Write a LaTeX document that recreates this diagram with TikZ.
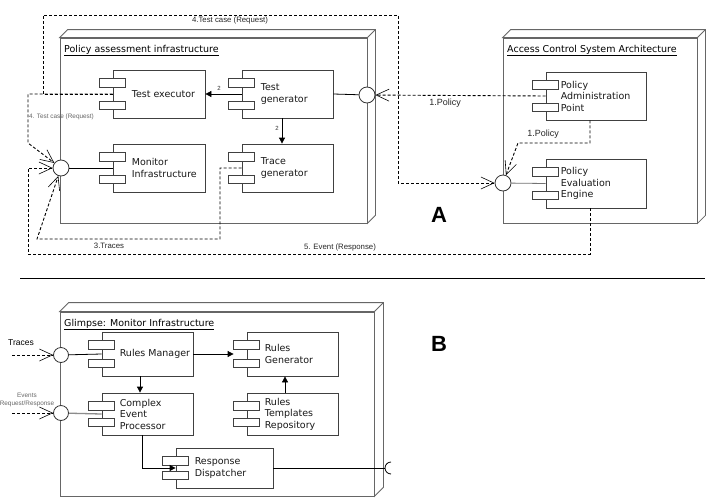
\documentclass[tikz,border=0pt]{standalone}
\usepackage{fontspec}
\setmainfont{DejaVu Sans}
\newfontfamily\labfont{Liberation Sans}
\usetikzlibrary{arrows.meta}

\tikzset{
  depbox/.style={draw=black!60, fill=white, line width=0.8pt, inner sep=0pt},
  depline/.style={draw=black!60, line width=0.8pt},
  compbox/.style={draw=black!75, fill=white, line width=0.8pt, inner sep=0pt},
  tabbox/.style={draw=black!75, fill=white, line width=0.8pt},
  comptext/.style={font=\fontsize{9.5}{11.5}\selectfont, align=left, inner sep=0pt, text=black!90},
  deptitle/.style={font=\fontsize{9.5}{11.5}\selectfont, anchor=base west, inner sep=0pt},
  iface/.style={circle, draw=black!80, fill=white, line width=0.8pt, minimum size=16pt, inner sep=0pt},
  solidline/.style={draw=black, line width=0.8pt},
  dashline/.style={draw=black, line width=0.9pt, dash pattern=on 3pt off 2pt},
  openarrow/.style={-{Straight Barb[length=13pt,width=12pt,line width=0.6pt]}},
  fillarrow/.style={-{Triangle[length=6pt,width=6pt]}},
  labA/.style={font=\labfont\fontsize{7.8}{9}\selectfont, inner sep=0pt, text=black!85},
  labP/.style={font=\labfont\fontsize{9}{10}\selectfont, inner sep=0pt, text=black!85},
  labS/.style={font=\labfont\fontsize{6.4}{7.5}\selectfont, inner sep=0pt, text=black!60, align=center},
  labtwo/.style={font=\labfont\fontsize{6}{7}\selectfont, inner sep=0pt, text=black!80},
  bigletter/.style={font=\labfont\bfseries\fontsize{22}{22}\selectfont, inner sep=0pt},
}

% component: [text offset]{name}{x1}{y1}{x2}{y2}{text}
\newcommand\comp[7][19]{%
  \node[compbox, minimum width={(#5-#3)*1pt}, minimum height={(#6-#4)*1pt}] (#2) at ({(#3+#5)/2},{(#4+#6)/2}) {};
  \draw[tabbox] ([shift={(-13pt,-9pt)}]#2.north west) rectangle ([shift={(13pt,-17.5pt)}]#2.north west);
  \draw[tabbox] ([shift={(-13pt,9pt)}]#2.south west) rectangle ([shift={(13pt,17.5pt)}]#2.south west);
  \node[comptext, anchor=west] (#2-t) at ([xshift=#1pt]#2.west) {#7};
}

% deployment node: [depth]{name}{x1}{y1}{x2}{y2}
\newcommand\deploy[6][8]{%
  \node[depbox, minimum width={(#5-#3)*1pt}, minimum height={(#6-#4)*1pt}] (#2) at ({(#3+#5)/2},{(#4+#6)/2}) {};
  \draw[depline, fill=white] (#2.north west) -- ++(#1pt,#1pt) -- ([shift={(#1pt,#1pt)}]#2.north east)
     -- ([shift={(#1pt,#1pt)}]#2.south east) -- (#2.south east) -- (#2.north east) -- cycle;
  \draw[depline] (#2.north east) -- ++(#1pt,#1pt);
}

\begin{document}
\begin{tikzpicture}[x=1pt, y=-1pt]
\useasboundingbox (0,0) rectangle (706,498);

% ---------------- Part A ----------------
\deploy{pai}{60}{38}{367}{223}
\node[deptitle] (pai-title) at (64,52) {\underline{Policy assessment infrastructure}};
\deploy{acs}{503}{38}{697}{223}
\node[deptitle] (acs-title) at (507,52) {\underline{Access Control System Architecture}};

\comp{te}{113}{70}{205}{118}{Test executor}
\comp{tg}{242}{70}{333}{118}{Test\\generator}
\comp{mi}{113}{144}{205}{192}{Monitor\\Infrastructure}
\comp{trg}{242}{144}{333}{192}{Trace\\generator}
\comp[15]{pap}{546}{72}{646}{120}{Policy\\Administration\\Point}
\comp[15]{pee}{546}{159}{646}{208}{Policy\\Evaluation\\Engine}

\node[iface] (cr) at (367,95) {};
\node[iface] (cl) at (61,168) {};
\node[iface] (cp) at (503,183) {};

% dashed message flows
\draw[dashline, openarrow] (pap.west) -- (cr);
\node[labP] (lpol1) at (445,103) {1.Policy};
\draw[dashline, openarrow] ([xshift=-6pt]pap.south) |- (518,143) -- (cp);
\node[labP] (lpol2) at (543,134) {1.Policy};

\draw[dashline, openarrow] (te.west) -- (43,94) -- (43,15) -- (398,15) -- (398,183) -- (cp);
\node[labA] (ltc1) at (230,20) {4.Test case (Request)};

\draw[dashline, openarrow] (te.west) -- (28,94) -- (28,143) -- (cl);
\node[labS, anchor=west] (ltc2) at (29,117) {4. Test case (Request)};

\draw[dashline, openarrow] (trg.west) -- (220,168) -- (220,239) -- (37,239) -- (cl);
\node[labA] (ltr) at (109,246) {3.Traces};

\draw[dashline, openarrow] ([xshift=-6pt]pee.south) -- (590,254) -- (28,254) -- (28,168) -- (cl);
\node[labA] (lev) at (340,247) {5. Event (Response)};

% solid connectors
\draw[solidline, fillarrow] (tg.west) -- (te.east);
\node[labtwo] (l2a) at (219,88) {2};
\draw[solidline, fillarrow] ([xshift=-5.5pt]tg.south) -- ([xshift=-5.5pt]trg.north);
\node[labtwo] (l2b) at (277,128) {2};

\draw[solidline] (tg.east) -- (cr);
\draw[solidline] (cl) -- (mi.west);
\draw[solidline, draw=black!55] (cp) -- (pee.west);

\node[bigletter] (la) at (439,215) {A};

% separator
\coordinate (s1) at (20,278);
\coordinate (s2) at (705,278);
\draw[line width=1pt] (s1) -- (s2);

% ---------------- Part B ----------------
\deploy[9]{gl}{60}{312}{374}{496}
\node[deptitle] (gl-title) at (64,326) {\underline{Glimpse: Monitor Infrastructure}};

\comp[18]{rm}{102}{332}{193}{376}{Rules Manager}
\comp[18]{rg}{247}{332}{338}{376}{Rules\\Generator}
\comp[18]{cep}{102}{393}{193}{435}{Complex\\Event\\Processor}
\comp[18]{rtr}{247}{393}{338}{435}{Rules\\Templates\\Repository}
\comp[19]{rd}{176}{448}{273}{488}{Response\\Dispatcher}

\draw[solidline, fillarrow] (rm.east) -- ([xshift=-13pt]rg.west);
\draw[solidline, fillarrow] ([xshift=-7.5pt]rm.south) -- ([xshift=-7.5pt]cep.north);
\draw[solidline, fillarrow] ([xshift=-7.5pt]rtr.north) -- ([xshift=-7.5pt]rg.south);
\draw[solidline, fillarrow] ([xshift=-5.5pt]cep.south) |- (rd.west);

\coordinate (sockc) at (391,468);
\coordinate (sockl) at (385,468);
\draw[solidline] (rd.east) -- (sockl);
\draw[solidline] ([yshift=6pt]sockc) arc[start angle=90, end angle=270, radius=6pt];

\node[iface, minimum size=15pt] (ct) at (61,355) {};
\node[iface, minimum size=15pt] (ce) at (61,413) {};
\draw[solidline] (ct) -- (rm.west);
\draw[solidline, draw=black!45, line width=1.3pt] (ce) -- (cep.west);

\coordinate (tin) at (12,355);
\coordinate (ein) at (12,413);
\draw[dashline, openarrow] (tin) -- (ct);
\draw[dashline, openarrow] (ein) -- (ce);
\node[font=\labfont\fontsize{8.5}{10}\selectfont, inner sep=0pt] (ltraces) at (21,343) {Traces};
\node[labS] (levents) at (27,400) {Events\\Request/Response};

\node[bigletter] (lb) at (439,344) {B};
\end{tikzpicture}
\end{document}
